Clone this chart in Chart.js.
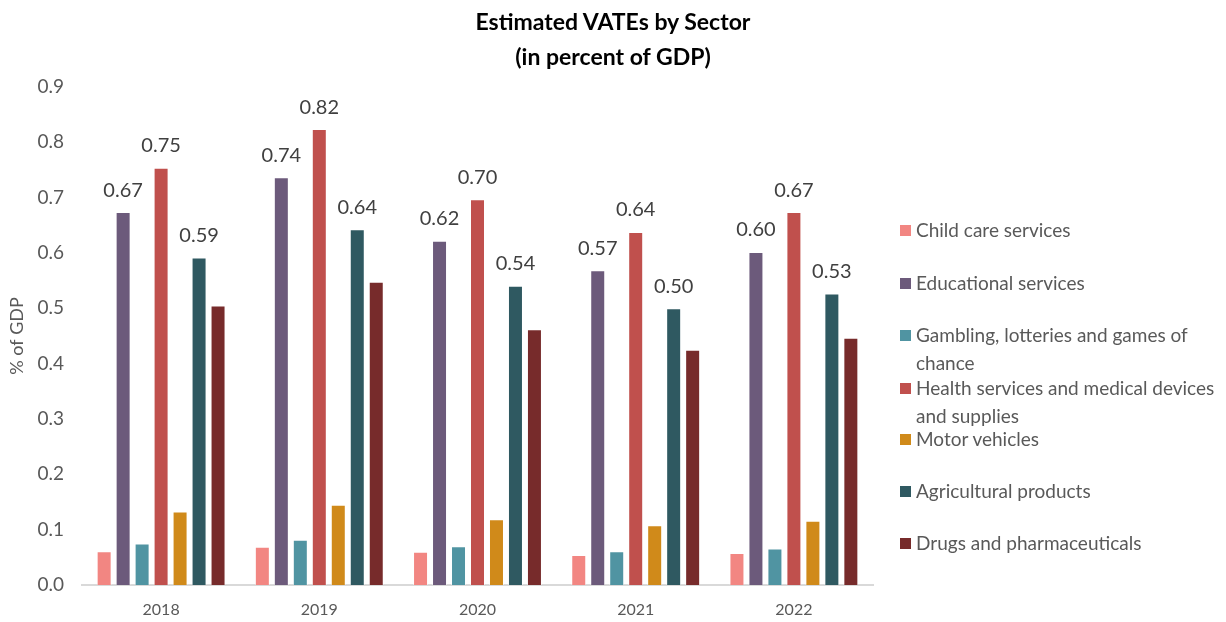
<!DOCTYPE html>
<html>
<head>
<meta charset="utf-8">
<script src="https://cdn.jsdelivr.net/npm/chart.js@4.4.1/dist/chart.umd.min.js"></script>
<style>
  html, body { margin: 0; padding: 0; background: #fff; }
  #wrap { position: relative; width: 1226px; height: 622px; }
  #title { position: absolute; left: 0; top: 4px; width: 1226px; text-align: center; font-family: Lato, "Noto Sans", sans-serif; font-weight: bold; font-size: 23px; line-height: 35px; color: #000; }
  #legend { position: absolute; left: 900px; top: 0; font-family: Lato, "Noto Sans", sans-serif; font-size: 19px; color: #595959; }
  .item { position: absolute; left: 0; white-space: nowrap; line-height: 28px; }
  .item .box { position: absolute; left: 0; top: 9px; width: 11px; height: 11px; }
  .item .txt { position: absolute; left: 16px; top: 0; }
</style>
</head>
<body>
<div id="wrap">
  <canvas id="chart" width="1226" height="622"></canvas>
  <div id="title">Estimated VATEs by Sector<br>(in percent of GDP)</div>
  <div id="legend"></div>
</div>
<script>
// Categories and series (percent of GDP)
const years = ['2018', '2019', '2020', '2021', '2022'];
const childCare = [0.061, 0.069, 0.060, 0.054, 0.058];
const educational = [0.674, 0.737, 0.622, 0.569, 0.602];
const gambling = [0.075, 0.082, 0.070, 0.061, 0.066];
const health = [0.754, 0.824, 0.697, 0.638, 0.674];
const motor = [0.133, 0.145, 0.119, 0.108, 0.116];
const agricultural = [0.592, 0.643, 0.541, 0.500, 0.527];
const drugs = [0.505, 0.548, 0.462, 0.425, 0.447];
const yTicks = [0, 0.1, 0.2, 0.3, 0.4, 0.5, 0.6, 0.7, 0.8, 0.9];

const seriesNames = [
  'Child care services',
  'Educational services',
  'Gambling, lotteries and games of chance',
  'Health services and medical devices and supplies',
  'Motor vehicles',
  'Agricultural products',
  'Drugs and pharmaceuticals'
];
const seriesData = [childCare, educational, gambling, health, motor, agricultural, drugs];
const seriesColors = ['#F28682', '#6C5A7B', '#5094A2', '#C0504D', '#D08A1A', '#2F5961', '#772B2B'];
const labelled = [1, 3, 5]; // series that carry value labels

// Legend lines (wrapped like the original) and their tops
const legendLines = [
  ['Child care services'],
  ['Educational services'],
  ['Gambling, lotteries and games of', 'chance'],
  ['Health services and medical devices', 'and supplies'],
  ['Motor vehicles'],
  ['Agricultural products'],
  ['Drugs and pharmaceuticals']
];
const legendTops = [216, 269, 321, 374, 425, 477, 529];

const legendEl = document.getElementById('legend');
legendLines.forEach((lines, i) => {
  const d = document.createElement('div');
  d.className = 'item';
  d.style.top = legendTops[i] + 'px';
  d.innerHTML = '<span class="box" style="background:' + seriesColors[i] + '"></span>' +
    '<span class="txt">' + lines.join('<br>') + '</span>';
  legendEl.appendChild(d);
});

// Draw value labels above selected bars
const valueLabels = {
  id: 'valueLabels',
  afterDatasetsDraw(chart) {
    const ctx = chart.ctx;
    ctx.save();
    ctx.font = '20px Lato, "Noto Sans", sans-serif';
    ctx.fillStyle = '#404040';
    ctx.textAlign = 'center';
    ctx.textBaseline = 'middle';
    labelled.forEach(di => {
      const meta = chart.getDatasetMeta(di);
      meta.data.forEach((bar, i) => {
        const v = chart.data.datasets[di].data[i];
        ctx.fillText(v.toFixed(2), bar.x, bar.y - 22);
      });
    });
    ctx.restore();
  }
};

new Chart(document.getElementById('chart').getContext('2d'), {
  type: 'bar',
  data: {
    labels: years,
    datasets: seriesNames.map((name, i) => ({
      label: name,
      data: seriesData[i],
      backgroundColor: seriesColors[i],
      borderColor: 'rgba(255,255,255,0.5)',
      borderWidth: 1,
      categoryPercentage: 0.84,
      barPercentage: 0.79
    }))
  },
  options: {
    responsive: false,
    animation: false,
    layout: { padding: { left: 6, right: 353, top: 87, bottom: 0 } },
    plugins: {
      legend: { display: false },
      tooltip: { enabled: false },
      title: { display: false }
    },
    scales: {
      x: {
        afterFit: scale => { scale.height = 37; },
        grid: { display: false, drawTicks: false },
        border: { display: true, color: '#D9D9D9', width: 2 },
        ticks: {
          color: '#595959',
          padding: 15,
          font: { family: 'Lato, "Noto Sans", sans-serif', size: 16 }
        }
      },
      y: {
        min: 0,
        max: 0.9,
        afterBuildTicks: scale => { scale.ticks = yTicks.map(v => ({ value: v })); },
        afterFit: scale => { scale.width = 76; },
        grid: { display: false, drawTicks: false },
        border: { display: false },
        title: {
          display: true,
          text: '% of GDP',
          color: '#595959',
          padding: { top: 0, bottom: 4 },
          font: { family: 'Lato, "Noto Sans", sans-serif', size: 18 }
        },
        ticks: {
          color: '#595959',
          padding: 18,
          font: { family: 'Lato, "Noto Sans", sans-serif', size: 19 },
          callback: v => Number(v).toFixed(1)
        }
      }
    }
  },
  plugins: [valueLabels]
});
</script>
</body>
</html>
